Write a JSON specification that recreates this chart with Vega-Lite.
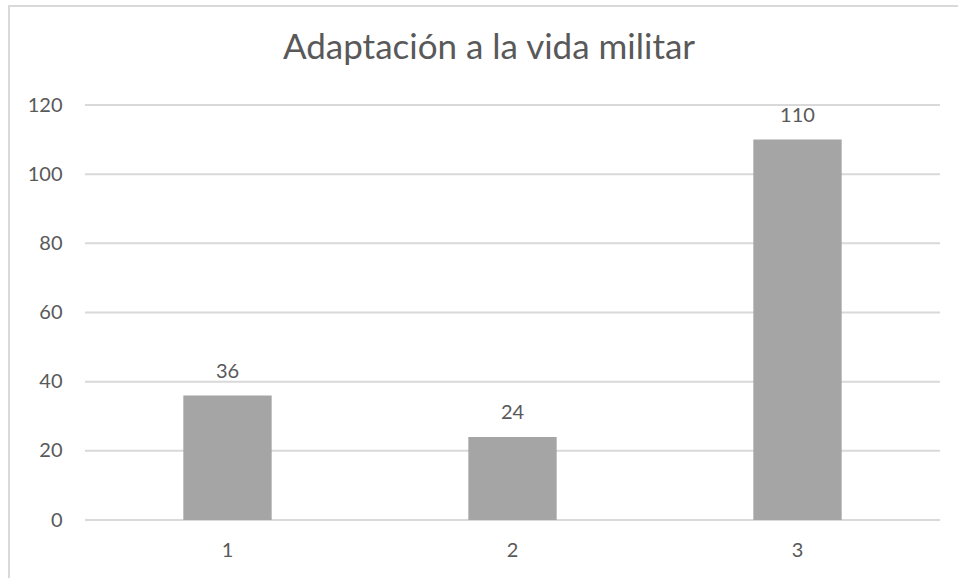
{
  "$schema": "https://vega.github.io/schema/vega-lite/v6.json",
  "width": 960,
  "height": 580,
  "autosize": {"type": "none"},
  "padding": {"left": 9, "top": 6, "right": 0, "bottom": 0},
  "background": "white",
  "config": {
    "view": {"stroke": "#d9d9d9", "strokeWidth": 2},
    "font": "Lato"
  },
  "title": {
    "text": "Adaptación a la vida militar",
    "fontSize": 35,
    "fontWeight": "normal",
    "color": "#595959",
    "font": "Lato",
    "anchor": "middle",
    "frame": "group",
    "offset": -88,
    "baseline": "alphabetic"
  },
  "datasets": {
    "gridlines": [
      {"tick": 0}, {"tick": 20}, {"tick": 40}, {"tick": 60},
      {"tick": 80}, {"tick": 100}, {"tick": 120}
    ],
    "responses": [
      {"categoria": "1", "valor": 36},
      {"categoria": "2", "valor": 24},
      {"categoria": "3", "valor": 110}
    ]
  },
  "layer": [
    {
      "data": {"name": "gridlines"},
      "mark": {"type": "rule", "color": "#d9d9d9", "strokeWidth": 2},
      "encoding": {
        "y": {
          "field": "tick",
          "type": "quantitative",
          "scale": {"domain": [0, 120], "range": [514, 99], "nice": false},
          "axis": {
            "orient": "left",
            "offset": -76,
            "domain": false,
            "ticks": false,
            "grid": false,
            "values": [0, 20, 40, 60, 80, 100, 120],
            "labelPadding": 23,
            "labelFontSize": 20,
            "labelColor": "#595959",
            "labelFont": "Lato",
            "title": null
          }
        },
        "x": {
          "datum": 0,
          "type": "quantitative",
          "scale": {"domain": [0, 1], "range": [76, 931]},
          "axis": null
        },
        "x2": {"datum": 1}
      }
    },
    {
      "data": {"name": "responses"},
      "encoding": {
        "x": {
          "field": "categoria",
          "type": "nominal",
          "sort": null,
          "scale": {"range": [76, 931], "paddingInner": 0.69, "paddingOuter": 0.345},
          "axis": {
            "orient": "bottom",
            "offset": -66,
            "labelAngle": 0,
            "domain": false,
            "ticks": false,
            "labelPadding": 20,
            "labelFontSize": 20,
            "labelColor": "#595959",
            "labelFont": "Lato",
            "title": null
          }
        },
        "y": {"field": "valor", "type": "quantitative"}
      },
      "layer": [
        {"mark": {"type": "bar", "color": "#a5a5a5"}},
        {
          "mark": {
            "type": "text",
            "dy": -18,
            "baseline": "alphabetic",
            "fontSize": 20,
            "color": "#595959",
            "font": "Lato"
          },
          "encoding": {
            "text": {"field": "valor", "type": "quantitative"}
          }
        }
      ]
    }
  ],
  "resolve": {"scale": {"x": "independent"}, "axis": {"x": "independent"}}
}
